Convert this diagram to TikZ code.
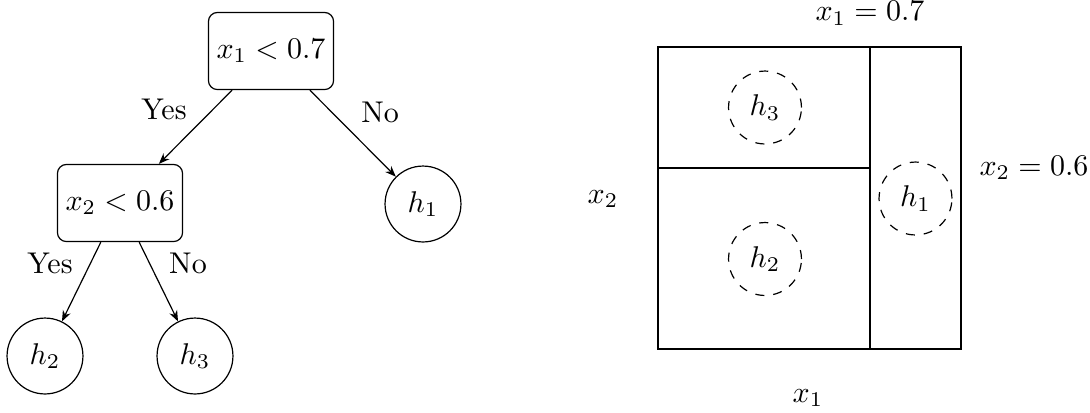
\documentclass[tikz,border=0pt]{standalone}
\usetikzlibrary{arrows.meta}
\begin{document}
\begin{tikzpicture}[x=0.3333pt,y=-0.3333pt,
  test/.style={draw, rounded corners=3pt, minimum width=41.7pt, minimum height=25.7pt, inner sep=0pt},
  leaf/.style={draw, circle, minimum size=25.3pt, inner sep=0pt},
  region/.style={draw, dashed, circle, minimum size=24.3pt, inner sep=0pt},
  branch/.style={-{Stealth[length=3.6pt,width=2.8pt]}},
  lbl/.style={inner sep=0pt, anchor=base}]
\useasboundingbox (0,0) rectangle (1090,412);

% decision tree
\node[test] (root)  at (271,51)  {$x_1 < 0.7$};
\node[test] (split) at (120,203) {$x_2 < 0.6$};
\node[leaf] (t1) at (423,204) {$h_1$};
\node[leaf] (t2) at (45,356)  {$h_2$};
\node[leaf] (t3) at (195,356) {$h_3$};
\draw[branch] (root)  -- (split);
\draw[branch] (root)  -- (t1);
\draw[branch] (split) -- (t2);
\draw[branch] (split) -- (t3);
\node[lbl] (ly1) at (164,119) {Yes};
\node[lbl] (ln1) at (380,122) {No};
\node[lbl] (ly2) at (50,273)  {Yes};
\node[lbl] (ln2) at (188,273) {No};

% partition of the input space
\coordinate (sw) at (658,349);
\coordinate (ne) at (961,47);
\coordinate (vtop) at (870,47);
\coordinate (vbot) at (870,349);
\coordinate (hl) at (658,168);
\coordinate (hr) at (870,168);
\draw[thick] (sw) rectangle (ne);
\draw (vtop) -- (vbot);
\draw (hl) -- (hr);
\node[region] (r3) at (765,107.5) {$h_3$};
\node[region] (r2) at (765,259)   {$h_2$};
\node[region] (r1) at (915.5,198.5) {$h_1$};
\node[lbl] (cut1) at (870,20.5)  {$x_1 = 0.7$};
\node[lbl] (cut2) at (1034,175) {$x_2 = 0.6$};
\node[lbl] (ax2) at (603,203) {$x_2$};
\node[lbl] (ax1) at (808,402) {$x_1$};
\end{tikzpicture}
\end{document}
